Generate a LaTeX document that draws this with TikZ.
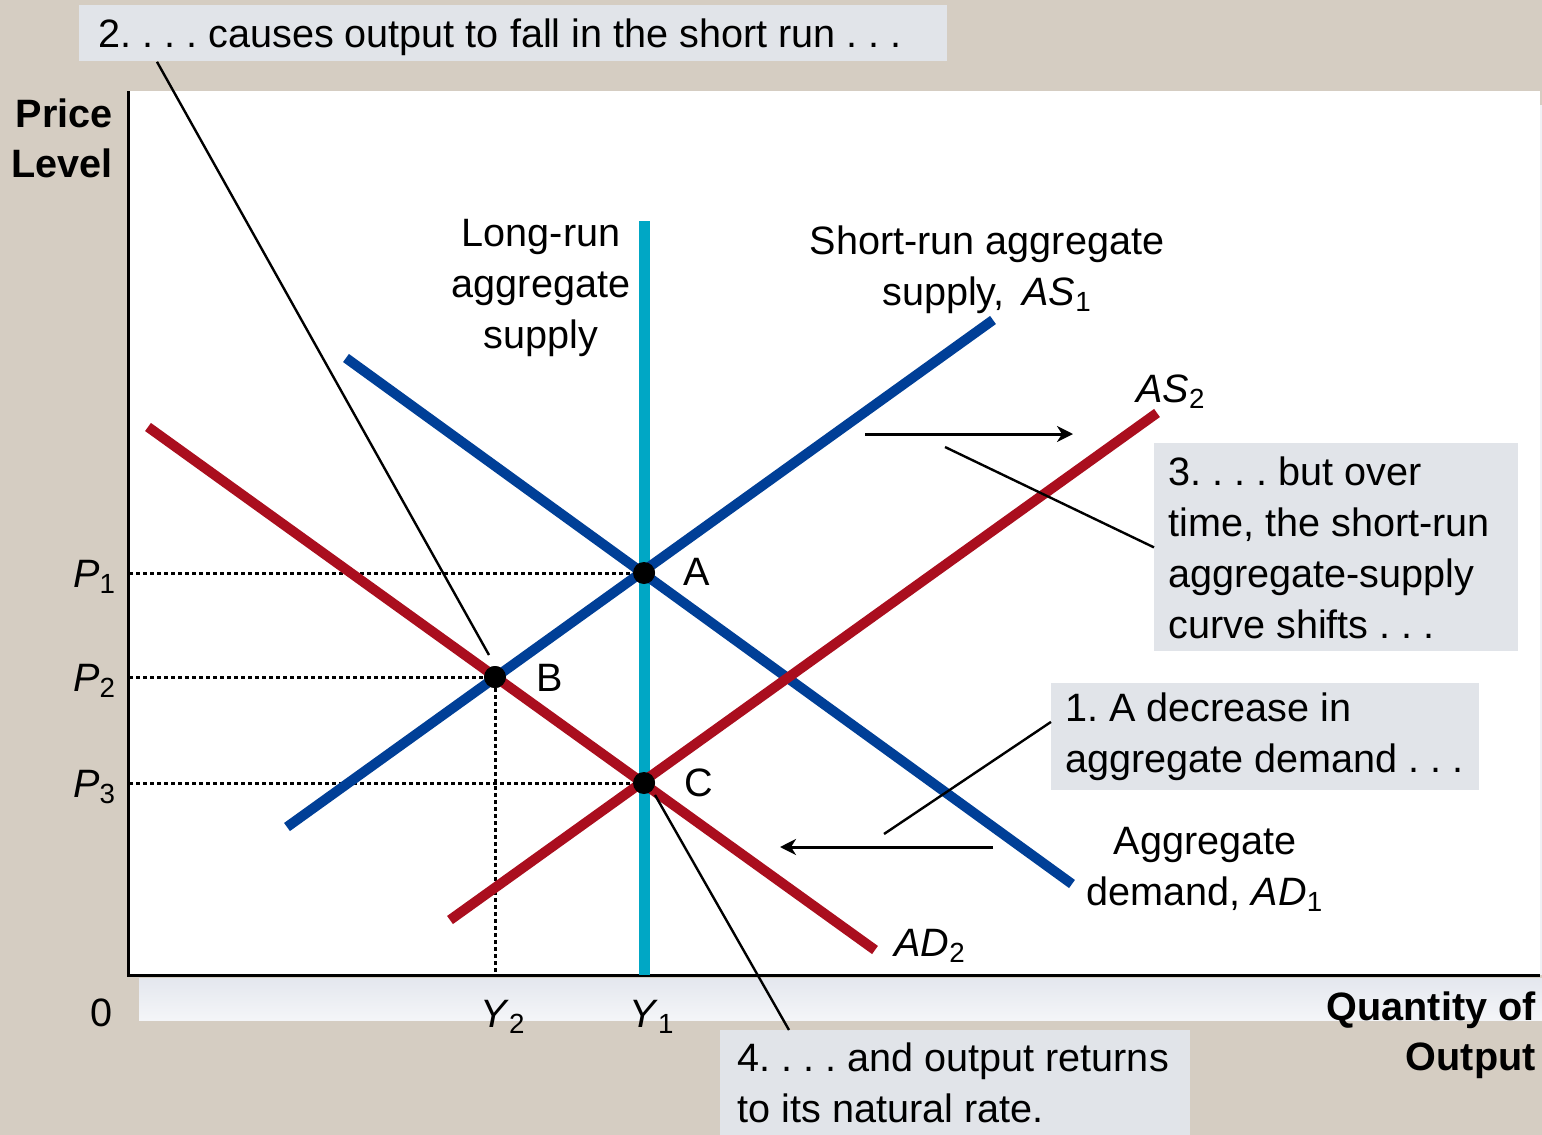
\documentclass[tikz,border=0pt]{standalone}
\usepackage{fontspec}
\setmainfont{Liberation Sans}
\usetikzlibrary{arrows.meta,positioning}
\definecolor{tanbg}{HTML}{D5CDC2}
\definecolor{boxgrey}{HTML}{E1E4E9}
\definecolor{stripgrey}{HTML}{E4E7EE}
\definecolor{asblue}{HTML}{003F97}
\definecolor{adred}{HTML}{AA0E1E}
\definecolor{lrcyan}{HTML}{00A7C5}
\newcommand{\idx}[2]{\textit{#1}\textsubscript{#2}}
\begin{document}
\begin{tikzpicture}[x=0.5pt, y=-0.5pt, font=\fontsize{19.8}{25.5}\selectfont\frenchspacing,
    curve/.style={line width=5pt},
    guide/.style={line width=1.5pt, dash pattern=on 2pt off 1.5pt},
    leader/.style={line width=1.2pt},
    shiftarrow/.style={line width=1.5pt, -{Stealth[length=8pt, width=8pt, inset=2.5pt]}},
    notebox/.style={fill=boxgrey, anchor=north west, align=flush left, inner ysep=0pt},
    dot/.style={circle, fill=black, inner sep=0pt, minimum size=11pt},
    axislabel/.style={inner sep=0pt, font=\fontsize{19.8}{25}\selectfont\bfseries}]
  \useasboundingbox (0,0) rectangle (1542,1135);
  % background and plot area
  \fill[tanbg] (0,0) rectangle (1542,1135);
  \fill[white] (128,91) rectangle (1540,975);
  \fill[stripgrey!60] (1540,105) rectangle (1542,975);
  \shade[top color=stripgrey, bottom color=stripgrey!40] (139,978) rectangle (1542,1020);
  \draw[line width=1.5pt] (128,91) -- (128,975) -- (1540,975);
  % equilibrium points
  \node[dot] (A) at (644,573) {};
  \node[dot] (B) at (495,677) {};
  \node[dot] (C) at (644,783) {};
  % dotted guides
  \draw[guide] (129,573) -- (A);
  \draw[guide] (129,677) -- (B);
  \draw[guide] (129,783) -- (C);
  \draw[guide] (B) -- (495,974);
  % curves
  \draw[line width=5.5pt, lrcyan] (644,221) -- (644,975);
  \draw[curve, asblue] (287,827) -- (993,320);
  \draw[curve, asblue] (346,358) -- (1072,884);
  \draw[curve, adred] (148,427) -- (875,950);
  \draw[curve, adred] (450,920) -- (1157,413);
  \node[dot] at (A) {};
  \node[dot] at (B) {};
  \node[dot] at (C) {};
  \node at (697,572) {A};
  \node at (550,678) {B};
  \node at (699,783) {C};
  % axis labels
  \node[axislabel, anchor=east, align=right] (ylab) at (113,138) {Price\\Level};
  \node[axislabel, anchor=east, align=right] (xlab) at (1536,1035) {Quantity of\\Output};
  \node (origin) at (102,1013) {0};
  \foreach \n/\y in {1/573,2/677,3/783}
    \node[anchor=east] (P\n) at (123,\y+4) {\idx{P}{\n}};
  \node (Y2) at (503,1017) {\idx{Y}{2}};
  \node (Y1) at (652,1017) {\idx{Y}{1}};
  % curve labels
  \node[align=center] (lras) at (541,288) {Long-run\\aggregate\\supply};
  \node[align=center] (sras) at (987,270) {Short-run aggregate\\supply, \,\idx{AS}{1}};
  \node (as2) at (1171,392) {\idx{AS}{2}};
  \node[align=center] (ad1) at (1205,869) {Aggregate\\demand, \idx{AD}{1}};
  \node (ad2) at (930,946) {\idx{AD}{2}};
  % notes
  \node[notebox, inner xsep=9.5pt, text width=415pt, minimum height=28pt, text depth=0pt] (note2) at (79,5)
    {2. . . . causes output to fall in the short run . . .};
  \node[notebox, inner xsep=7pt, text width=168pt, minimum height=104pt] (note3) at (1154,443)
    {3. . . . but over\\time, the short-run\\aggregate-supply\\curve shifts . . .};
  \node[notebox, inner xsep=7pt, text width=200pt, minimum height=53.5pt] (note1) at (1051,683)
    {1. A decrease in\\aggregate demand . . .};
  \node[notebox, inner xsep=8.5pt, text width=218pt, minimum height=52.5pt] (note4) at (720,1030)
    {4. . . . and output returns\\to its natural rate.};
  % leaders
  \coordinate (tipB) at (489,655);
  \coordinate (tip3) at (945,447);
  \coordinate (tip1) at (884,834);
  \coordinate (tipC) at (655,795);
  \draw[leader] ([xshift=39pt]note2.south west) -- (tipB);
  \draw[leader] (note3.west) -- (tip3);
  \draw[leader] ([yshift=7.5pt]note1.west) -- (tip1);
  \draw[leader] ([xshift=34.5pt]note4.north west) -- (tipC);
  % shifts
  \coordinate (as1s) at (865,434);
  \coordinate (as2s) at (1073,434);
  \coordinate (ad1s) at (993,847);
  \coordinate (ad2s) at (780,847);
  \draw[shiftarrow] (as1s) -- (as2s);
  \draw[shiftarrow] (ad1s) -- (ad2s);
\end{tikzpicture}
\end{document}
